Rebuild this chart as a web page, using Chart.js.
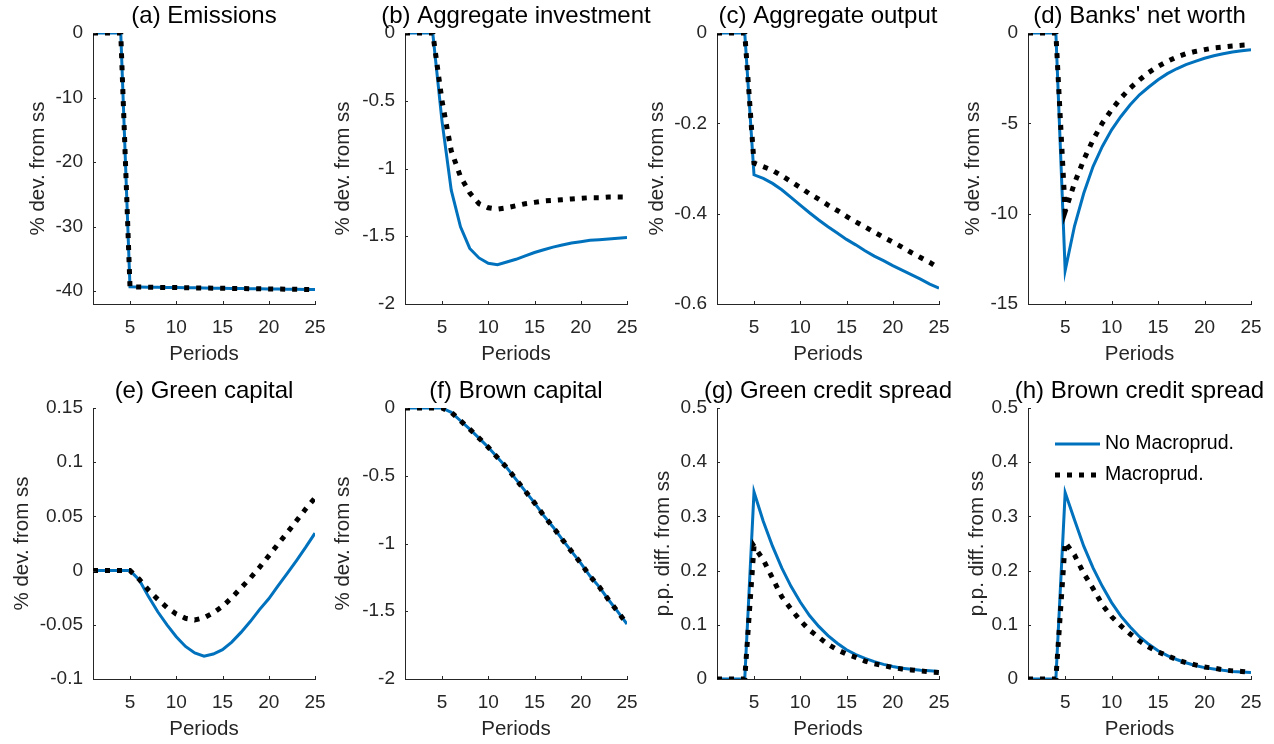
<!DOCTYPE html>
<html>
<head>
<meta charset="utf-8">
<script src="https://cdn.jsdelivr.net/npm/chart.js@4.4.1/dist/chart.umd.min.js"></script>
<style>
  body { margin: 0; background: #fff; width: 1274px; height: 744px; position: relative; overflow: hidden; }
  canvas { position: absolute; }
</style>
</head>
<body>
<script>
// ---- data ----
const periods = [1, 2, 3, 4, 5, 6, 7, 8, 9, 10, 11, 12, 13, 14, 15, 16, 17, 18, 19, 20, 21, 22, 23, 24, 25]
const xTicks = [5, 10, 15, 20, 25]

const titles = ['(a) Emissions', '(b) Aggregate investment', '(c) Aggregate output', "(d) Banks' net worth",
  '(e) Green capital', '(f) Brown capital', '(g) Green credit spread', '(h) Brown credit spread']
const yLabels = ['% dev. from ss', '% dev. from ss', '% dev. from ss', '% dev. from ss',
  '% dev. from ss', '% dev. from ss', 'p.p. diff. from ss', 'p.p. diff. from ss']
const seriesNames = ['No Macroprud.', 'Macroprud.']

const yTicksA = [-40, -30, -20, -10, 0]
const yTicksB = [-2, -1.5, -1, -0.5, 0]
const yTicksC = [-0.6, -0.4, -0.2, 0]
const yTicksD = [-15, -10, -5, 0]
const yTicksE = [-0.1, -0.05, 0, 0.05, 0.1, 0.15]
const yTicksF = [-2, -1.5, -1, -0.5, 0]
const yTicksG = [0, 0.1, 0.2, 0.3, 0.4, 0.5]
const yTicksH = [0, 0.1, 0.2, 0.3, 0.4, 0.5]
const yRanges = [[-42, 0], [-2, 0], [-0.6, 0], [-15, 0], [-0.1, 0.15], [-2, 0], [0, 0.5], [0, 0.5]]

const emissionsNo = [0, 0, 0, 0, -39.35, -39.38, -39.4, -39.42, -39.44, -39.46, -39.48, -39.5, -39.52, -39.54, -39.56, -39.58, -39.6, -39.62, -39.64, -39.66, -39.68, -39.7, -39.72, -39.74, -39.75]
const emissionsMacro = [0, 0, 0, 0, -39.35, -39.38, -39.4, -39.42, -39.44, -39.46, -39.48, -39.5, -39.52, -39.54, -39.56, -39.58, -39.6, -39.62, -39.64, -39.66, -39.68, -39.7, -39.72, -39.74, -39.75]

const investNo = [0, 0, 0, 0, -0.65, -1.16, -1.43, -1.59, -1.66, -1.7, -1.71, -1.69, -1.67, -1.645, -1.62, -1.6, -1.58, -1.565, -1.55, -1.54, -1.53, -1.525, -1.52, -1.515, -1.51]
const investMacro = [0, 0, 0, 0, -0.5, -0.87, -1.06, -1.18, -1.26, -1.29, -1.3, -1.29, -1.275, -1.26, -1.25, -1.24, -1.235, -1.23, -1.225, -1.22, -1.215, -1.215, -1.21, -1.21, -1.21]

const outputNo = [0, 0, 0, 0, -0.314, -0.322, -0.333, -0.347, -0.364, -0.381, -0.398, -0.414, -0.429, -0.443, -0.457, -0.469, -0.482, -0.494, -0.504, -0.515, -0.525, -0.535, -0.545, -0.556, -0.565]
const outputMacro = [0, 0, 0, 0, -0.288, -0.296, -0.304, -0.316, -0.329, -0.342, -0.356, -0.368, -0.381, -0.393, -0.406, -0.418, -0.429, -0.441, -0.452, -0.463, -0.474, -0.486, -0.497, -0.508, -0.521]

const netWorthNo = [0, 0, 0, 0, -13.15, -10.7, -8.87, -7.39, -6.28, -5.36, -4.62, -3.97, -3.42, -2.99, -2.59, -2.25, -1.98, -1.75, -1.57, -1.4, -1.26, -1.15, -1.05, -0.98, -0.92]
const netWorthMacro = [0, 0, 0, 0, -9.88, -8.31, -7.02, -5.91, -4.99, -4.25, -3.6, -3.05, -2.59, -2.18, -1.85, -1.57, -1.33, -1.15, -1.02, -0.92, -0.83, -0.78, -0.72, -0.68, -0.65]

const greenKNo = [0, 0, 0, 0, 0, -0.0086, -0.024, -0.038, -0.05, -0.061, -0.07, -0.076, -0.079, -0.077, -0.073, -0.066, -0.057, -0.047, -0.036, -0.026, -0.014, -0.0025, 0.0093, 0.0216, 0.0345]
const greenKMacro = [0, 0, 0, 0, 0, -0.008, -0.018, -0.0265, -0.034, -0.04, -0.044, -0.0456, -0.0435, -0.039, -0.033, -0.025, -0.016, -0.007, 0.003, 0.0136, 0.0244, 0.035, 0.046, 0.057, 0.067]

const brownKNo = [0, 0, 0, 0, 0, -0.032, -0.094, -0.156, -0.222, -0.29, -0.366, -0.44, -0.527, -0.613, -0.7, -0.794, -0.878, -0.97, -1.058, -1.145, -1.24, -1.32, -1.415, -1.503, -1.595]
const brownKMacro = [0, 0, 0, 0, 0, -0.032, -0.094, -0.156, -0.222, -0.29, -0.366, -0.44, -0.527, -0.613, -0.7, -0.794, -0.878, -0.97, -1.058, -1.145, -1.24, -1.32, -1.415, -1.503, -1.595]

const greenSpreadNo = [0, 0, 0, 0, 0.345, 0.291, 0.245, 0.205, 0.171, 0.142, 0.117, 0.097, 0.08, 0.066, 0.054, 0.045, 0.038, 0.032, 0.027, 0.023, 0.02, 0.018, 0.016, 0.015, 0.014]
const greenSpreadMacro = [0, 0, 0, 0, 0.245, 0.22, 0.186, 0.152, 0.129, 0.108, 0.09, 0.077, 0.064, 0.054, 0.046, 0.04, 0.033, 0.028, 0.025, 0.021, 0.0185, 0.0167, 0.015, 0.013, 0.012]

const brownSpreadNo = [0, 0, 0, 0, 0.344, 0.294, 0.245, 0.205, 0.171, 0.141, 0.116, 0.096, 0.078, 0.064, 0.052, 0.043, 0.036, 0.03, 0.025, 0.021, 0.0185, 0.016, 0.014, 0.013, 0.012]
const brownSpreadMacro = [0, 0, 0, 0, 0.252, 0.229, 0.195, 0.167, 0.137, 0.115, 0.098, 0.083, 0.07, 0.059, 0.05, 0.043, 0.036, 0.03, 0.026, 0.022, 0.02, 0.017, 0.015, 0.014, 0.012]

const panelSeries = [
  [emissionsNo, emissionsMacro], [investNo, investMacro], [outputNo, outputMacro], [netWorthNo, netWorthMacro],
  [greenKNo, greenKMacro], [brownKNo, brownKMacro], [greenSpreadNo, greenSpreadMacro], [brownSpreadNo, brownSpreadMacro],
]
const panelTicks = [yTicksA, yTicksB, yTicksC, yTicksD, yTicksE, yTicksF, yTicksG, yTicksH]

// ---- look ----
const FONT = '"Liberation Sans", Arial, Helvetica, sans-serif'
const BLUE = '#0072BD'
const AXIS = '#262626'

// plot box of each panel on the page, and x of the rotated y label
const frames = [
  { left: 93, right: 315, top: 33, labelX: 38 },
  { left: 405, right: 627, top: 33, labelX: 343 },
  { left: 717, right: 939, top: 33, labelX: 657 },
  { left: 1028, right: 1251, top: 33, labelX: 973 },
  { left: 93, right: 315, top: 408, labelX: 22 },
  { left: 405, right: 627, top: 408, labelX: 343 },
  { left: 717, right: 939, top: 408, labelX: 663 },
  { left: 1028, right: 1251, top: 408, labelX: 977 },
]

// title above the axes, inward tick marks, legend box
const matlabLook = {
  id: 'matlab',
  afterDraw(chart, args, opts) {
    const { ctx, chartArea: a, scales } = chart
    ctx.save()
    ctx.fillStyle = '#000'
    ctx.font = '24px ' + FONT
    ctx.textAlign = 'center'
    ctx.textBaseline = 'middle'
    ctx.fillText(opts.title, (a.left + a.right) / 2, a.top - 16.5)

    ctx.strokeStyle = AXIS
    ctx.lineWidth = 1
    ctx.beginPath()
    scales.x.ticks.forEach(t => {
      const px = Math.round(scales.x.getPixelForValue(t.value)) + 0.5
      ctx.moveTo(px, a.bottom)
      ctx.lineTo(px, a.bottom - 3)
    })
    scales.y.ticks.forEach(t => {
      const py = Math.round(scales.y.getPixelForValue(t.value)) + 0.5
      ctx.moveTo(a.left, py)
      ctx.lineTo(a.left + 3, py)
    })
    ctx.stroke()

    if (opts.legend) {
      const rows = [chart.data.datasets[1], chart.data.datasets[0]]
      rows.forEach((ds, k) => {
        const y = a.top + 36 + k * 31
        ctx.beginPath()
        ctx.strokeStyle = ds.borderColor
        ctx.lineWidth = ds.borderWidth
        ctx.setLineDash(ds.borderDash || [])
        ctx.moveTo(a.left + 27, y)
        ctx.lineTo(a.left + 72, y)
        ctx.stroke()
        ctx.setLineDash([])
        ctx.fillStyle = '#000'
        ctx.font = '19.5px ' + FONT
        ctx.textAlign = 'left'
        ctx.fillText(ds.label, a.left + 77, y)
      })
    }
    ctx.restore()
  },
}

const toXY = vals => vals.map((v, i) => ({ x: periods[i], y: v }))

frames.forEach((f, i) => {
  const canvas = document.createElement('canvas')
  const cLeft = f.labelX - 15
  const cTop = f.top - 33
  const padRight = 30
  canvas.width = f.right + padRight - cLeft
  canvas.height = 367
  canvas.style.left = cLeft + 'px'
  canvas.style.top = cTop + 'px'
  document.body.appendChild(canvas)

  const padLeft = 2.7
  const yWidth = f.left - cLeft - padLeft
  const [noMacro, macro] = panelSeries[i]
  const ticks = panelTicks[i]

  new Chart(canvas, {
    type: 'line',
    data: {
      datasets: [
        { label: seriesNames[1], data: toXY(macro), borderColor: '#000', borderWidth: 5, borderDash: [5, 7], order: 0 },
        { label: seriesNames[0], data: toXY(noMacro), borderColor: BLUE, borderWidth: 3, order: 1 },
      ],
    },
    options: {
      responsive: false,
      animation: false,
      devicePixelRatio: 1,
      layout: { padding: { left: padLeft, right: padRight, top: 33, bottom: 0 } },
      elements: { point: { radius: 0 }, line: { tension: 0, borderCapStyle: 'butt', borderJoinStyle: 'miter' } },
      plugins: {
        legend: { display: false },
        tooltip: { enabled: false },
        matlab: { title: titles[i], legend: i === 7 },
      },
      scales: {
        x: {
          type: 'linear',
          min: 1,
          max: 25,
          afterBuildTicks: s => { s.ticks = xTicks.map(v => ({ value: v })) },
          afterFit: s => { s.height = 63 },
          grid: { display: false, drawTicks: false },
          border: { display: true, color: AXIS, width: 1 },
          ticks: { padding: 12, color: AXIS, font: { family: FONT, size: 19 }, maxRotation: 0, autoSkip: false, callback: v => String(v) },
          title: { display: true, text: 'Periods', color: AXIS, font: { family: FONT, size: 20.5 }, padding: 0 },
        },
        y: {
          type: 'linear',
          min: yRanges[i][0],
          max: yRanges[i][1],
          afterBuildTicks: s => { s.ticks = ticks.map(v => ({ value: v })) },
          afterFit: s => { s.width = yWidth },
          grid: { display: false, drawTicks: false },
          border: { display: true, color: AXIS, width: 1 },
          ticks: { padding: 10, color: AXIS, font: { family: FONT, size: 19 }, autoSkip: false, callback: v => String(v) },
          title: { display: true, text: yLabels[i], color: AXIS, font: { family: FONT, size: 20.5 }, padding: 0 },
        },
      },
    },
    plugins: [matlabLook],
  })
})
</script>
</body>
</html>
